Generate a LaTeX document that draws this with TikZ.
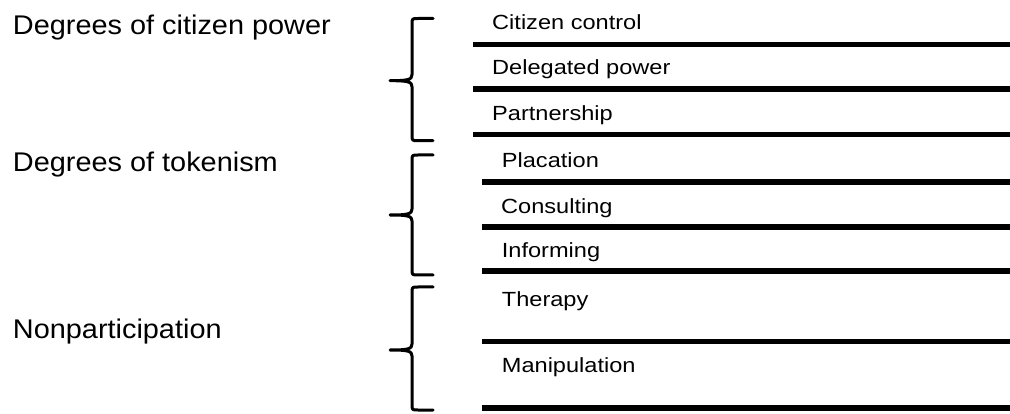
\documentclass[tikz,border=0pt]{standalone}
\usepackage{fontspec}
\setmainfont{Liberation Sans}
\newfontfamily\grpfont[FakeStretch=1.07]{Liberation Sans}
\newfontfamily\rungfont[FakeStretch=1.15]{Liberation Sans}

\begin{document}
\begin{tikzpicture}[x=1pt,y=-1pt,line join=round,line cap=round,
	group/.style={anchor=base west,inner sep=0pt,font=\grpfont\fontsize{27}{30}\selectfont},
	rung/.style={anchor=base west,inner sep=0pt,font=\rungfont\fontsize{20.5}{24}\selectfont},
	bar/.style={line width=5.5pt,line cap=butt},
	curly/.style={line width=3pt}]
	\useasboundingbox (0,0) rectangle (1010,414);
	\def\xend{1010}
	\def\brace#1#2#3{\draw[curly] (433,#1) -- (418,#1) .. controls (412,#1) .. (412,#1+6) -- (412,#2-6) .. controls (412,#2-1) and (408,#2) .. (390,#2) .. controls (408,#2) and (412,#2+1) .. (412,#2+6) -- (412,#3-6) .. controls (412,#3) .. (418,#3) -- (433,#3);}
	% groups
	\node[group] (power) at (12.7,35) {Degrees of citizen power};
	\node[group] (token) at (12.7,172) {Degrees of tokenism};
	\node[group] (nonpart) at (12.7,338) {Nonparticipation};
	\brace{18.5}{80.7}{140.7}
	\brace{155}{215}{275}
	\brace{287}{350}{410}
	% rungs
	\node[rung] (control) at (492,29.3) {Citizen control};
	\node[rung] (delegated) at (492,75) {Delegated power};
	\node[rung] (partner) at (492,120.7) {Partnership};
	\node[rung] (placation) at (501.7,167.3) {Placation};
	\node[rung] (consult) at (501,213.3) {Consulting};
	\node[rung] (inform) at (501.7,257.3) {Informing};
	\node[rung] (therapy) at (501.7,306) {Therapy};
	\node[rung] (manip) at (501.7,372.7) {Manipulation};
	\foreach \y in {44.5,89.2,134.3} \draw[bar] (473,\y) -- (\xend,\y);
	\foreach \y in {182,227,271,341.5,407.8} \draw[bar] (482,\y) -- (\xend,\y);
\end{tikzpicture}
\end{document}
